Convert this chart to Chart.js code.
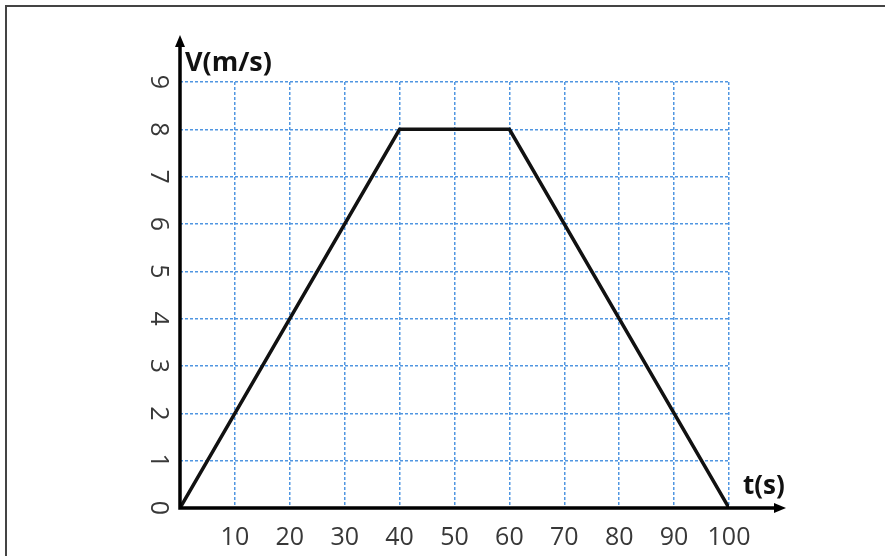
<!DOCTYPE html>
<html>
<head>
<meta charset="utf-8">
<script src="https://cdn.jsdelivr.net/npm/chart.js@4.4.0/dist/chart.umd.min.js"></script>
<style>
html,body{margin:0;padding:0;background:#fff;}
#wrap{width:885px;height:556px;position:relative;}
</style>
</head>
<body>
<div id="wrap"><canvas id="c" width="885" height="556"></canvas></div>
<script>
// ---- data ----
const timeValues = [0, 40, 60, 100];      // t (s)
const speedValues = [0, 8, 8, 0];         // V (m/s)
const xTickValues = [10, 20, 30, 40, 50, 60, 70, 80, 90, 100];
const yTickValues = [0, 1, 2, 3, 4, 5, 6, 7, 8, 9];
const xAxisTitle = 't(s)';
const yAxisTitle = 'V(m/s)';

const points = timeValues.map((t, i) => ({ x: t, y: speedValues[i] }));

const tickFont = { family: 'Open Sans', size: 25 };
const tickColor = '#383838';
const gridColor = 'rgb(80,150,225)';

const decorPlugin = {
  id: 'decor',
  afterDraw(chart) {
    const ctx = chart.ctx;
    const a = chart.chartArea;
    ctx.save();
    // frame (top and left edges of the picture border)
    ctx.strokeStyle = '#444';
    ctx.lineWidth = 2;
    ctx.beginPath();
    ctx.moveTo(6, 556);
    ctx.lineTo(6, 6);
    ctx.lineTo(885, 6);
    ctx.stroke();

    // axes
    ctx.strokeStyle = '#000';
    ctx.fillStyle = '#000';
    ctx.lineWidth = 3.5;
    ctx.lineCap = 'butt';
    ctx.beginPath();
    ctx.moveTo(a.left, a.bottom + 1.75);
    ctx.lineTo(a.left, a.top - 36);
    ctx.moveTo(a.left - 1.75, a.bottom);
    ctx.lineTo(a.right + 48, a.bottom);
    ctx.stroke();
    // arrow heads
    ctx.beginPath();
    ctx.moveTo(a.left, a.top - 47);
    ctx.lineTo(a.left - 5, a.top - 35);
    ctx.lineTo(a.left + 5, a.top - 35);
    ctx.closePath();
    ctx.fill();
    ctx.beginPath();
    ctx.moveTo(a.right + 57, a.bottom);
    ctx.lineTo(a.right + 45, a.bottom - 5);
    ctx.lineTo(a.right + 45, a.bottom + 5);
    ctx.closePath();
    ctx.fill();

    // axis titles
    ctx.font = 'bold 27px "Open Sans"';
    ctx.textAlign = 'left';
    ctx.textBaseline = 'alphabetic';
    ctx.fillStyle = '#111';
    ctx.fillText(yAxisTitle, a.left + 5, a.top - 11);
    ctx.font = 'bold 26px "Open Sans"';
    ctx.fillText(xAxisTitle, a.right + 14, a.bottom - 14);
    ctx.restore();
  }
};

new Chart(document.getElementById('c'), {
  type: 'line',
  data: {
    datasets: [{
      data: points,
      borderColor: '#111',
      borderWidth: 3.5,
      pointRadius: 0,
      tension: 0,
      fill: false
    }]
  },
  options: {
    responsive: false,
    animation: false,
    devicePixelRatio: 1,
    layout: { padding: { left: 0, top: 82, right: 156, bottom: 0 } },
    plugins: { legend: { display: false }, tooltip: { enabled: false } },
    scales: {
      x: {
        type: 'linear',
        min: 0,
        max: 100,
        afterBuildTicks: s => { s.ticks = xTickValues.map(v => ({ value: v })); },
        afterFit: s => { s.height = 48; },
        grid: { color: gridColor, lineWidth: 1.5, drawTicks: false },
        border: { display: false, dash: [3, 2] },
        ticks: {
          padding: 15, font: tickFont, color: tickColor,
          minRotation: 0, maxRotation: 0, autoSkip: false
        }
      },
      y: {
        type: 'linear',
        min: 0,
        max: 9,
        afterBuildTicks: s => { s.ticks = yTickValues.map(v => ({ value: v })); },
        afterFit: s => { s.width = 180; },
        grid: { color: gridColor, lineWidth: 1.5, drawTicks: false },
        border: { display: false, dash: [3, 2] },
        ticks: {
          padding: 15, font: tickFont, color: tickColor,
          minRotation: -90, maxRotation: -90, crossAlign: 'center', autoSkip: false
        }
      }
    }
  },
  plugins: [decorPlugin]
});
</script>
</body>
</html>
